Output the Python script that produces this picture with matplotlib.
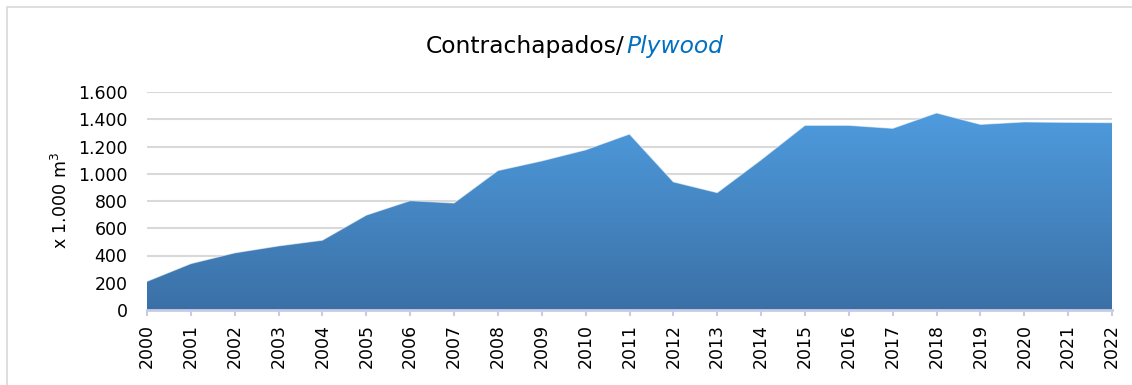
import numpy as np
import matplotlib.pyplot as plt
from matplotlib.colors import LinearSegmentedColormap
from matplotlib.patches import Rectangle

# Plywood production, thousand m3
years = list(range(2000, 2023))
volume = [210, 340, 419, 470, 512, 696, 802, 785, 1023, 1094, 1175, 1291,
          940, 861, 1102, 1355, 1355, 1333, 1446, 1362, 1380, 1377, 1375]
yticks = [0, 200, 400, 600, 800, 1000, 1200, 1400, 1600]
ytick_labels = ['0', '200', '400', '600', '800', '1.000', '1.200', '1.400', '1.600']

plt.rcParams['font.family'] = ['DejaVu Sans']

fig = plt.figure(figsize=(11.32, 3.85), dpi=100)
fig.patch.set_facecolor('white')
ax = fig.add_axes([147 / 1132, 1 - 310 / 385, 965 / 1132, 218 / 385])

# Area with a vertical gradient, clipped to the filled polygon
poly = ax.fill_between(years, volume, 0, color='none', lw=0)
cmap = LinearSegmentedColormap.from_list('blues', ['#3b70a6', '#4f9de0'])
grad = np.linspace(0, 1, 256).reshape(-1, 1)
img = ax.imshow(grad, cmap=cmap, origin='lower', aspect='auto',
                extent=[years[0], years[-1], 0, 1500], zorder=2)
img.set_clip_path(poly.get_paths()[0], transform=ax.transData)
ax.plot(years, volume, color='white', lw=0.8, alpha=0.5, zorder=3)

ax.set_xlim(years[0], years[-1])
ax.set_ylim(0, 1600)
ax.set_yticks(yticks)
ax.set_yticklabels(ytick_labels)
ax.set_xticks(years)
ax.set_xticklabels([str(y) for y in years], rotation=90)
ax.grid(axis='y', color='#d9d9d9', lw=1.5, zorder=1)
ax.set_axisbelow(True)

for s in ['top', 'right', 'left']:
    ax.spines[s].set_visible(False)
ax.spines['bottom'].set_color('#c8cbe4')
ax.spines['bottom'].set_linewidth(2)
ax.spines['bottom'].set_zorder(4)

ax.tick_params(axis='y', length=0, pad=14, labelsize=12.5, colors='black')
ax.tick_params(axis='x', length=4, width=1.5, color='#c8cbe4', pad=6,
               labelsize=12.5, labelcolor='black')

ax.set_ylabel('x 1.000 m$^3$', fontsize=12.5)
ax.yaxis.set_label_coords(-0.079, 0.5)

# Two-style title, centred on the figure
t1 = fig.text(0, 1 - 53 / 385, 'Contrachapados/', fontsize=16.8,
              color='black', va='baseline', ha='left')
t2 = fig.text(0, 1 - 53 / 385, 'Plywood', fontsize=16.8, style='italic',
              color='#0070c0', va='baseline', ha='left')
fig.canvas.draw()
r = fig.canvas.get_renderer()
w1 = t1.get_window_extent(r).width
w2 = t2.get_window_extent(r).width
W = fig.bbox.width
x0 = 573.5 - (w1 + w2) / 2
t1.set_x(x0 / W)
t2.set_x((x0 + w1 + 2) / W)

# Outer frame (runs past the right and bottom edges)
fig.patches.append(Rectangle((7 / 1132, -10 / 385), 1140 / 1132, 388 / 385,
                             transform=fig.transFigure, fill=False,
                             edgecolor='#d9d9d9', lw=1.2))

fig.savefig('out.png', dpi=100)
